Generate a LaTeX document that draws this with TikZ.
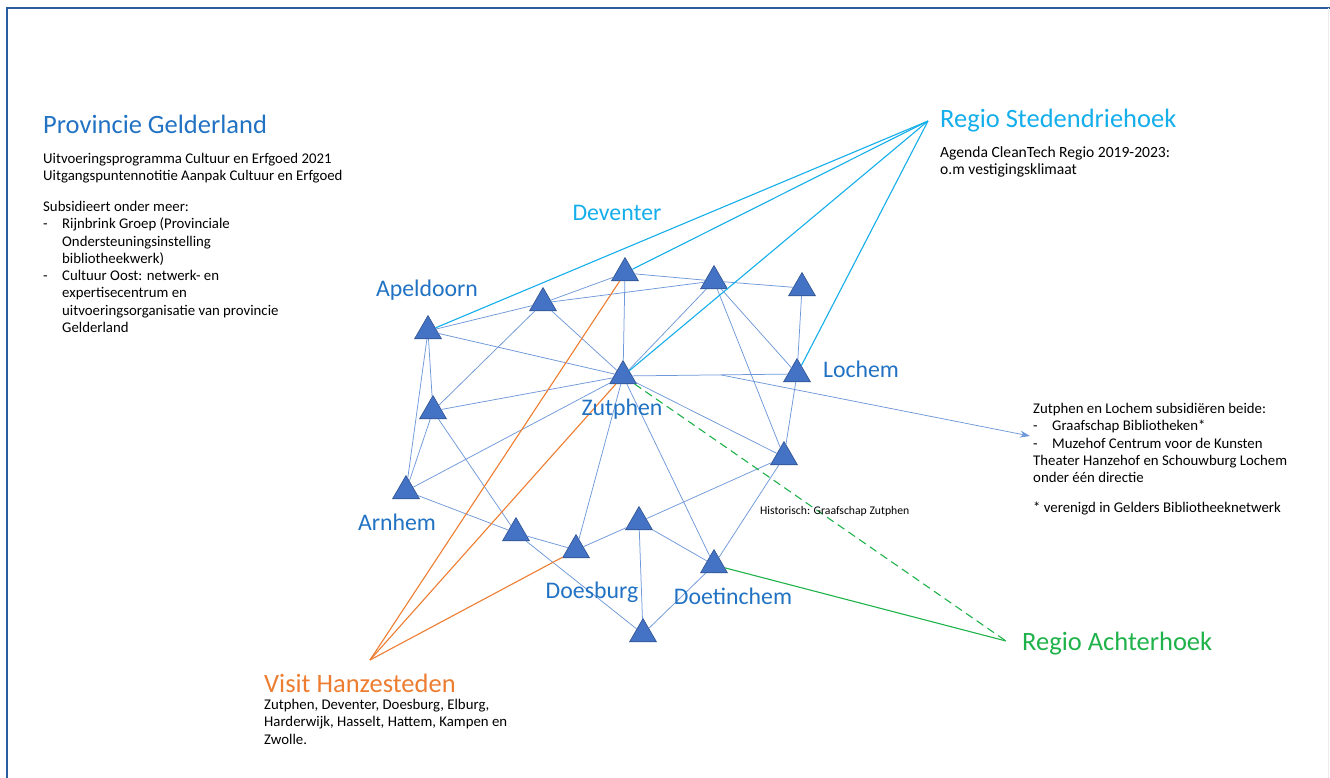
\documentclass[tikz,border=0pt]{standalone}
\usepackage{fontspec}
\setmainfont{Carlito}
\usepackage{xcolor}
\usetikzlibrary{shapes.geometric, arrows.meta}
\definecolor{TriBlue}{HTML}{4472C4}
\definecolor{TriEdge}{HTML}{2F528F}
\definecolor{LinkBlue}{HTML}{6F98D8}
\definecolor{LabelBlue}{HTML}{2272C3}
\definecolor{SkyBlue}{HTML}{14AEEB}
\definecolor{HanzeOrange}{HTML}{ED7D31}
\definecolor{HoekGreen}{HTML}{1FB24A}
\definecolor{FrameBlue}{HTML}{2A5C9E}
\newcommand{\Dash}{\makebox[19pt][l]{-}}
\newcommand{\Indent}{\hspace*{19pt}}

\begin{document}
\begin{tikzpicture}[x=1pt, y=-1pt, font=\fontsize{14.8}{17.3}\selectfont,
Town/.style={regular polygon, regular polygon sides=3, minimum size=31pt, inner sep=0pt, fill=TriBlue, draw=TriEdge, line width=0.6pt},
Link/.style={LinkBlue, line width=0.75pt},
SkyLink/.style={SkyBlue, line width=1.1pt},
HanzeLink/.style={HanzeOrange, line width=1.1pt},
HoekLink/.style={HoekGreen, line width=1.1pt},
TownName/.style={LabelBlue, font=\fontsize{23.8}{28}\selectfont, inner sep=0pt},
Heading/.style={font=\fontsize{26.5}{30}\selectfont, inner sep=0pt, anchor=west},
Body/.style={align=left, inner sep=0pt, anchor=north west}]
\useasboundingbox (0,0) rectangle (1330,778);
\draw[FrameBlue, line width=2pt] (7,778) -- (7,8) -- (1330,8);
\draw[black!8, line width=1pt] (1328,8) -- (1328,778);

\foreach \name/\px/\py in {apeldoorn/428/331, ta/543/303, deventer/625/273, zutphen/623/376,
  tb/433/411, tc/714/281, td/802/288, lochem/797/374, te/784/457, arnhem/406/491,
  tf/516/533, doesburg/576/550, tg/639/522, doetinchem/714/565, th/643/634} {
  \node[Town] (\name) at (\px,\py) {};
}
\foreach \a/\b in {apeldoorn/ta, apeldoorn/zutphen, apeldoorn/tb, apeldoorn/arnhem,
  ta/deventer, ta/tc, ta/zutphen, ta/tb, deventer/zutphen, deventer/tc, tc/td,
  tc/zutphen, tc/lochem, tc/te, td/lochem, zutphen/lochem, zutphen/tb, zutphen/arnhem,
  zutphen/doesburg, zutphen/doetinchem, zutphen/te, lochem/te, tb/arnhem, tb/tf,
  arnhem/tf, tf/doesburg, tf/th, doesburg/tg, tg/te, tg/doetinchem, tg/th,
  te/doetinchem, doetinchem/th} {
  \draw[Link] (\a) -- (\b);
}

\coordinate (rsHub) at (928,121);
\coordinate (raHub) at (1006,641);
\coordinate (vhHub) at (370,660);
\foreach \t in {apeldoorn, deventer, zutphen, lochem}
  \draw[SkyLink] (\t) -- (rsHub);
\foreach \t in {deventer, zutphen, doesburg}
  \draw[HanzeLink] (\t) -- (vhHub);
\draw[HoekLink] (doetinchem) -- (raHub);
\draw[HoekLink, dashed, dash pattern=on 8pt off 5pt] (zutphen) -- (raHub);

\path (zutphen) -- (lochem) coordinate[pos=0.57] (split);
\coordinate (infoTip) at (1030,436);
\draw[Link, ->, >={Stealth[length=10pt, width=7pt]}] (split) -- (infoTip);

\foreach \name/\txt/\px/\py in {lblApeldoorn/Apeldoorn/427/290, lblZutphen/Zutphen/622/409,
  lblLochem/Lochem/861/369, lblArnhem/Arnhem/397/522, lblDoesburg/Doesburg/592/592,
  lblDoetinchem/Doetinchem/733/596} {
  \node[TownName] (\name) at (\px,\py) {\txt};
}
\node[TownName, SkyBlue] (lblDeventer) at (617,213) {Deventer};

\node[Heading, LabelBlue] (provTitle) at (43,124) {Provincie Gelderland};
\node[Body] (provText) at (43,153) {Uitvoeringsprogramma Cultuur en Erfgoed 2021\\
  Uitgangspuntennotitie Aanpak Cultuur en Erfgoed};
\node[Body] (provSub) at (43,201) {Subsidieert onder meer:\\
  \Dash Rijnbrink Groep (Provinciale\\
  \Indent Ondersteuningsinstelling\\
  \Indent bibliotheekwerk)\\
  \Dash Cultuur Oost: netwerk- en\\
  \Indent expertisecentrum en\\
  \Indent uitvoeringsorganisatie van provincie\\
  \Indent Gelderland};

\node[Heading, SkyBlue] (rsTitle) at (940,121) {Regio Stedendriehoek};
\node[Body, font=\fontsize{15.6}{17.3}\selectfont] (rsText) at (940,146) {Agenda CleanTech Regio 2019-2023:\\
  o.m vestigingsklimaat};

\node[Body] (infoText) at (1033,403) {Zutphen en Lochem subsidiëren beide:\\
  \Dash Graafschap Bibliotheken*\\
  \Dash Muzehof Centrum voor de Kunsten\\
  Theater Hanzehof en Schouwburg Lochem\\
  onder één directie\\[13pt]
  * verenigd in Gelders Bibliotheeknetwerk};

\node[Body, anchor=west, font=\fontsize{11.7}{14}\selectfont] (histText) at (760,511) {Historisch: Graafschap Zutphen};

\node[Heading, HoekGreen] (raTitle) at (1022,644) {Regio Achterhoek};
\node[Heading, HanzeOrange] (vhTitle) at (264,683) {Visit Hanzesteden};
\node[Body] (vhText) at (264,699) {Zutphen, Deventer, Doesburg, Elburg,\\
  Harderwijk, Hasselt, Hattem, Kampen en\\
  Zwolle.};
\end{tikzpicture}
\end{document}
